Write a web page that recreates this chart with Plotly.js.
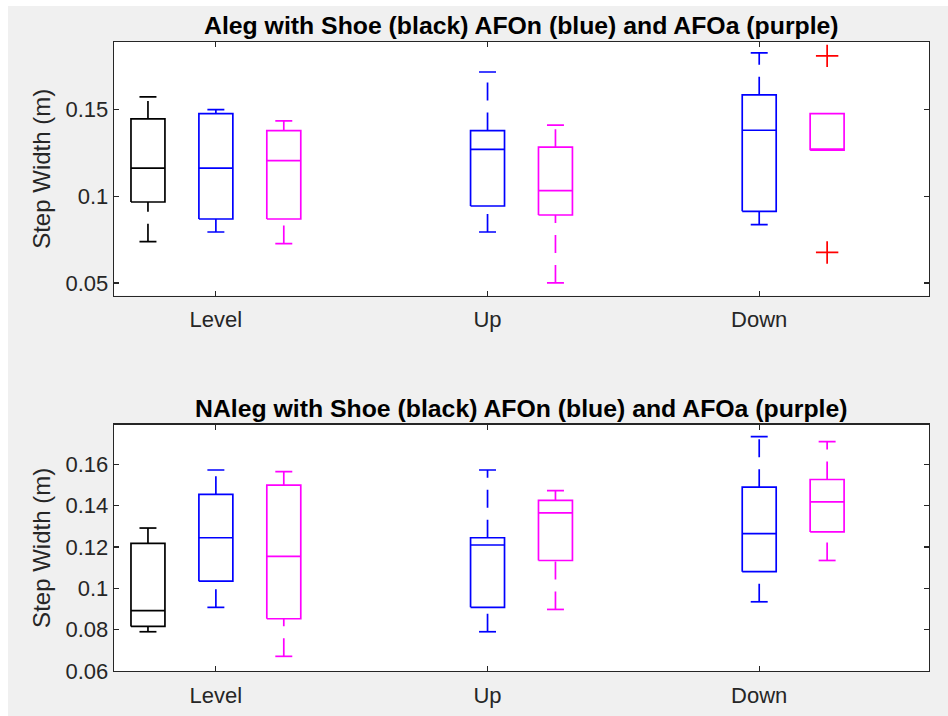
<!DOCTYPE html>
<html>
<head>
<meta charset="utf-8">
<script src="https://cdn.plot.ly/plotly-3.0.1.min.js"></script>
<style>
  html, body { margin: 0; padding: 0; background: #ffffff; }
  #chart { position: absolute; left: 8px; top: 6px; width: 940px; height: 710px; }
</style>
</head>
<body>
<div id="chart"></div>
<script>
// ---- categories ----
const groups = ['Level', 'Up', 'Down'];
const seriesNames = ['Shoe', 'AFOn', 'AFOa'];

// ---- Aleg (top panel): [lower whisker, q1, median, q3, upper whisker] per group ----
const alegShoeLow  = [0.0738, null, null];
const alegShoeQ1   = [0.0967, null, null];
const alegShoeMed  = [0.1163, null, null];
const alegShoeQ3   = [0.1446, null, null];
const alegShoeHigh = [0.1573, null, null];

const alegAFOnLow  = [0.0794, 0.0794, 0.0837];
const alegAFOnQ1   = [0.0869, 0.0944, 0.0913];
const alegAFOnMed  = [0.1163, 0.1271, 0.1381];
const alegAFOnQ3   = [0.1477, 0.1379, 0.1585];
const alegAFOnHigh = [0.1500, 0.1717, 0.1827];

const alegAFOaLow  = [0.0727, 0.0500, 0.1266];
const alegAFOaQ1   = [0.0869, 0.0892, 0.1266];
const alegAFOaMed  = [0.1206, 0.1033, 0.1272];
const alegAFOaQ3   = [0.1379, 0.1283, 0.1477];
const alegAFOaHigh = [0.1435, 0.1410, 0.1477];
const alegAFOaOutlierGroup = ['Down', 'Down'];
const alegAFOaOutlierValue = [0.1810, 0.0676];

// ---- NAleg (bottom panel) ----
const nalegShoeLow  = [0.0790, null, null];
const nalegShoeQ1   = [0.0816, null, null];
const nalegShoeMed  = [0.0892, null, null];
const nalegShoeQ3   = [0.1218, null, null];
const nalegShoeHigh = [0.1292, null, null];

const nalegAFOnLow  = [0.0908, 0.0790, 0.0935];
const nalegAFOnQ1   = [0.1035, 0.0908, 0.1081];
const nalegAFOnMed  = [0.1245, 0.1210, 0.1265];
const nalegAFOnQ3   = [0.1455, 0.1245, 0.1490];
const nalegAFOnHigh = [0.1573, 0.1573, 0.1735];

const nalegAFOaLow  = [0.0671, 0.0898, 0.1135];
const nalegAFOaQ1   = [0.0853, 0.1135, 0.1273];
const nalegAFOaMed  = [0.1155, 0.1365, 0.1419];
const nalegAFOaQ3   = [0.1500, 0.1426, 0.1527];
const nalegAFOaHigh = [0.1565, 0.1473, 0.1710];

// ---- tick labels ----
const topYTicks = [0.05, 0.1, 0.15];
const topYTickText = ['0.05', '0.1', '0.15'];
const botYTicks = [0.06, 0.08, 0.1, 0.12, 0.14, 0.16];
const botYTickText = ['0.06', '0.08', '0.1', '0.12', '0.14', '0.16'];

// ---- styling ----
const colors = { Shoe: '#000000', AFOn: '#0000ff', AFOa: '#ff00ff' };
const FONT = 'Liberation Sans, Arial, Helvetica, sans-serif';
const AX = '#262626';
const LW = 1.7;
const BOX_HALF = 0.25, CAP_HALF = 0.125;
const SLOTS_PER_GROUP = 4;   // 3 series + spacing slot

function posOf(gi, si) { return gi * SLOTS_PER_GROUP + si + 1; }

function boxTraces(stats, seriesIdx, xa, ya) {
  const name = seriesNames[seriesIdx];
  const col = colors[name];
  const sx = [], sy = [], wx = [], wy = [];
  for (let g = 0; g < groups.length; g++) {
    if (stats.q1[g] === null) continue;
    const p = posOf(g, seriesIdx);
    const lo = stats.low[g], q1 = stats.q1[g], md = stats.med[g], q3 = stats.q3[g], hi = stats.high[g];
    // box outline
    sx.push(p - BOX_HALF, p + BOX_HALF, p + BOX_HALF, p - BOX_HALF, p - BOX_HALF, null);
    sy.push(q1, q1, q3, q3, q1, null);
    // median
    sx.push(p - BOX_HALF, p + BOX_HALF, null);
    sy.push(md, md, null);
    // caps
    if (hi > q3) { sx.push(p - CAP_HALF, p + CAP_HALF, null); sy.push(hi, hi, null); }
    if (lo < q1) { sx.push(p - CAP_HALF, p + CAP_HALF, null); sy.push(lo, lo, null); }
    // whiskers (dashed): lower drawn upward from adjacent value, upper from q3
    if (lo < q1) { wx.push(p, p, null); wy.push(lo, q1, null); }
    if (hi > q3) { wx.push(p, p, null); wy.push(q3, hi, null); }
  }
  return [
    { x: sx, y: sy, xaxis: xa, yaxis: ya, type: 'scatter', mode: 'lines', connectgaps: false,
      line: { color: col, width: LW }, hoverinfo: 'skip', showlegend: false },
    { x: wx, y: wy, xaxis: xa, yaxis: ya, type: 'scatter', mode: 'lines', connectgaps: false,
      line: { color: col, width: LW, dash: '18px,12px' }, hoverinfo: 'skip', showlegend: false }
  ];
}

const traces = [];
const topStats = [
  { low: alegShoeLow, q1: alegShoeQ1, med: alegShoeMed, q3: alegShoeQ3, high: alegShoeHigh },
  { low: alegAFOnLow, q1: alegAFOnQ1, med: alegAFOnMed, q3: alegAFOnQ3, high: alegAFOnHigh },
  { low: alegAFOaLow, q1: alegAFOaQ1, med: alegAFOaMed, q3: alegAFOaQ3, high: alegAFOaHigh }
];
const botStats = [
  { low: nalegShoeLow, q1: nalegShoeQ1, med: nalegShoeMed, q3: nalegShoeQ3, high: nalegShoeHigh },
  { low: nalegAFOnLow, q1: nalegAFOnQ1, med: nalegAFOnMed, q3: nalegAFOnQ3, high: nalegAFOnHigh },
  { low: nalegAFOaLow, q1: nalegAFOaQ1, med: nalegAFOaMed, q3: nalegAFOaQ3, high: nalegAFOaHigh }
];
topStats.forEach((s, i) => traces.push(...boxTraces(s, i, 'x', 'y')));
botStats.forEach((s, i) => traces.push(...boxTraces(s, i, 'x2', 'y2')));

// outliers
traces.push({
  x: alegAFOaOutlierGroup.map(g => posOf(groups.indexOf(g), 2)),
  y: alegAFOaOutlierValue,
  xaxis: 'x', yaxis: 'y', type: 'scatter', mode: 'markers',
  marker: { symbol: 'cross-thin-open', size: 16, color: '#ff0000', line: { color: '#ff0000', width: 1.7 } },
  hoverinfo: 'skip', showlegend: false
});

const xTickVals = groups.map((g, i) => posOf(i, 1));

function xAxis(anchor) {
  return {
    anchor: anchor, domain: [0, 1], range: [0.5, 12.5],
    tickvals: xTickVals, ticktext: groups,
    ticks: 'inside', ticklen: 5, tickwidth: 1.2, tickcolor: AX,
    showline: true, linecolor: AX, linewidth: 1.3, mirror: 'ticks',
    showgrid: false, zeroline: false, ticklabelstandoff: 4,
    tickfont: { family: FONT, size: 22, color: AX }
  };
}
function yAxis(anchor, domain, range, vals, text) {
  return {
    anchor: anchor, domain: domain, range: range,
    tickvals: vals, ticktext: text,
    ticks: 'inside', ticklen: 5, tickwidth: 1.2, tickcolor: AX,
    showline: true, linecolor: AX, linewidth: 1.3, mirror: 'ticks',
    showgrid: false, zeroline: false,
    tickfont: { family: FONT, size: 22, color: AX },
    title: { text: 'Step Width (m)', font: { family: FONT, size: 24, color: AX }, standoff: 8 }
  };
}

const layout = {
  width: 940, height: 710,
  margin: { l: 106, r: 19, t: 36.3, b: 45.3, pad: 0 },
  paper_bgcolor: '#f0f0f0', plot_bgcolor: '#ffffff',
  showlegend: false,
  xaxis: xAxis('y'),
  yaxis: yAxis('x', [0.5968, 1], [0.0427, 0.1890], topYTicks, topYTickText),
  xaxis2: xAxis('y2'),
  yaxis2: yAxis('x2', [0, 0.3915], [0.06, 0.1792], botYTicks, botYTickText),
  annotations: [
    { text: '<b>Aleg with Shoe (black) AFOn (blue) and AFOa (purple)</b>', xref: 'paper', yref: 'paper',
      x: 0.5, y: 1, xanchor: 'center', yanchor: 'bottom', yshift: 1, showarrow: false,
      font: { family: FONT, size: 24.8, color: '#000000' } },
    { text: '<b>NAleg with Shoe (black) AFOn (blue) and AFOa (purple)</b>', xref: 'paper', yref: 'paper',
      x: 0.5, y: 0.3915, xanchor: 'center', yanchor: 'bottom', yshift: 1, showarrow: false,
      font: { family: FONT, size: 24.8, color: '#000000' } }
  ]
};

Plotly.newPlot('chart', traces, layout, { displayModeBar: false, staticPlot: true });
</script>
</body>
</html>
